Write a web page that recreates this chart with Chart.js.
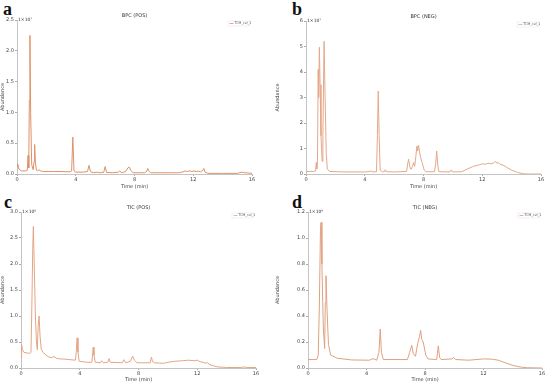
<!DOCTYPE html>
<html><head><meta charset="utf-8">
<script src="https://cdn.jsdelivr.net/npm/chart.js@4.4.1/dist/chart.umd.min.js"></script>
<style>
body{margin:0;width:550px;height:383px;background:#fff;position:relative;overflow:hidden}
canvas{position:absolute}
.lab{position:absolute;font:bold 18px "Liberation Serif",serif;color:#111;line-height:1}
</style></head><body>
<div class="lab" style="left:3px;top:0px">a</div>
<div class="lab" style="left:292px;top:0px">b</div>
<div class="lab" style="left:4px;top:193px">c</div>
<div class="lab" style="left:292px;top:193px">d</div>
<canvas id="ca" width="275" height="190" style="left:0;top:0"></canvas>
<canvas id="cb" width="275" height="190" style="left:275px;top:0"></canvas>
<canvas id="cc" width="275" height="193" style="left:0;top:190px"></canvas>
<canvas id="cd" width="275" height="193" style="left:275px;top:190px"></canvas>
<script>
// ---- data: [time (min), abundance] ----
const xTicks = [0, 4, 8, 12, 16];
const seriesLabel = "TCM_ref_1";
const titles = ["BPC (POS)", "BPC (NEG)", "TIC (POS)", "TIC (NEG)"];
const exponents = ["1\u00d710\u2077", "1\u00d710\u2077", "1\u00d710\u2078", "1\u00d710\u2079"];

const bpcPos = [[0,0.12],[0.05,0.16],[0.12,0.08],[0.3,0.05],[0.6,0.05],[0.7,0.06],[0.75,0.3],[0.8,0.1],[0.84,1.2],[0.88,2.25],[0.93,1.0],[1.0,0.15],[1.1,0.07],[1.16,0.2],[1.2,0.48],[1.25,0.2],[1.32,0.06],[1.4,0.05],[1.5,0.07],[1.6,0.05],[1.8,0.04],[2.5,0.04],[3.0,0.04],[3.6,0.035],[3.72,0.05],[3.8,0.6],[3.88,0.05],[4.0,0.03],[4.5,0.03],[4.8,0.04],[4.9,0.14],[5.0,0.04],[5.2,0.02],[5.5,0.03],[5.6,0.02],[5.9,0.025],[6.0,0.12],[6.1,0.025],[6.5,0.02],[6.9,0.03],[7.0,0.05],[7.1,0.02],[7.4,0.04],[7.55,0.1],[7.65,0.11],[7.75,0.06],[7.9,0.02],[8.7,0.02],[8.85,0.05],[8.9,0.09],[8.95,0.05],[9.1,0.02],[10.5,0.02],[11.0,0.02],[11.3,0.035],[11.45,0.05],[11.6,0.04],[11.75,0.05],[11.9,0.04],[12.05,0.05],[12.2,0.04],[12.35,0.045],[12.5,0.035],[12.65,0.06],[12.72,0.09],[12.8,0.03],[13.0,0.01],[14.0,0.01],[15.0,0.01],[15.3,0.03],[15.5,0.02],[15.8,0.015],[16.0,0.01]];

const bpcNeg = [[0,0.1],[0.5,0.1],[0.65,0.12],[0.7,0.45],[0.74,0.2],[0.78,0.5],[0.83,4.1],[0.86,3.0],[0.91,4.97],[0.96,3.5],[1.02,1.5],[1.1,0.5],[1.15,1.5],[1.23,5.2],[1.3,3.0],[1.38,0.8],[1.45,0.2],[1.6,0.1],[2.5,0.08],[4.0,0.08],[4.4,0.1],[4.45,0.13],[4.5,0.08],[4.8,0.09],[4.86,1.5],[4.92,3.25],[4.98,1.5],[5.05,0.15],[5.2,0.08],[5.35,0.1],[5.4,0.17],[5.45,0.09],[6.0,0.08],[6.85,0.1],[6.92,0.4],[6.99,0.58],[7.06,0.3],[7.15,0.18],[7.25,0.3],[7.33,0.45],[7.4,0.3],[7.48,0.7],[7.55,1.1],[7.6,0.9],[7.67,1.12],[7.72,0.9],[7.8,0.65],[7.9,0.45],[8.05,0.15],[8.15,0.09],[8.75,0.09],[8.83,0.4],[8.9,0.9],[8.97,0.35],[9.05,0.09],[9.8,0.08],[9.9,0.16],[9.97,0.08],[10.6,0.09],[11.0,0.2],[11.4,0.3],[11.8,0.36],[12.0,0.4],[12.2,0.38],[12.4,0.42],[12.6,0.4],[12.8,0.44],[12.9,0.5],[13.0,0.42],[13.1,0.45],[13.2,0.38],[13.4,0.35],[13.7,0.25],[14.0,0.15],[14.4,0.06],[14.8,0.01],[15.2,0],[16,0]];

const ticPos = [[0,0.2],[0.04,0.45],[0.1,0.35],[0.2,0.3],[0.6,0.28],[0.68,0.3],[0.74,1.2],[0.8,2.3],[0.84,2.72],[0.9,2.0],[0.98,1.0],[1.06,0.45],[1.11,0.35],[1.17,0.8],[1.23,1.0],[1.3,0.6],[1.38,0.36],[1.5,0.3],[1.7,0.25],[1.9,0.21],[2.1,0.2],[2.25,0.22],[2.45,0.18],[3.0,0.17],[3.7,0.15],[3.76,0.3],[3.82,0.58],[3.88,0.3],[3.96,0.13],[4.5,0.11],[4.83,0.11],[4.88,0.3],[4.92,0.4],[4.97,0.25],[5.05,0.11],[5.4,0.1],[5.5,0.14],[5.6,0.1],[5.9,0.11],[6.0,0.18],[6.08,0.11],[6.9,0.1],[7.0,0.16],[7.12,0.1],[7.45,0.13],[7.6,0.23],[7.72,0.15],[7.9,0.1],[8.8,0.1],[8.88,0.21],[8.96,0.12],[9.1,0.1],[9.7,0.09],[10.0,0.11],[10.5,0.13],[11.0,0.14],[11.4,0.15],[11.8,0.14],[12.0,0.15],[12.2,0.12],[12.4,0.11],[12.6,0.09],[12.7,0.11],[12.8,0.07],[13.0,0.05],[13.4,0.02],[14.0,0.01],[15.0,0.01],[15.2,0.02],[15.4,0.01],[16,0.01]];

const ticNeg = [[0,0.065],[0.6,0.065],[0.7,0.1],[0.78,0.5],[0.85,1.05],[0.89,1.12],[0.95,0.8],[1.05,0.3],[1.14,0.15],[1.18,0.5],[1.23,0.71],[1.3,0.45],[1.4,0.18],[1.55,0.1],[2.0,0.075],[3.0,0.062],[4.2,0.06],[4.45,0.072],[4.7,0.06],[4.85,0.12],[4.94,0.3],[5.02,0.12],[5.15,0.065],[6.8,0.065],[6.95,0.12],[7.09,0.175],[7.2,0.11],[7.35,0.09],[7.5,0.19],[7.62,0.24],[7.7,0.29],[7.78,0.22],[7.88,0.2],[8.05,0.1],[8.2,0.07],[8.8,0.065],[8.91,0.17],[9.0,0.08],[9.1,0.065],[9.85,0.07],[9.95,0.08],[10.1,0.065],[11.0,0.06],[12.0,0.07],[12.6,0.068],[13.0,0.06],[13.5,0.04],[14.0,0.02],[14.5,0.008],[15,0.002],[16,0]];

const yMaxes = [2.5, 6, 3.0, 1.2];
const ySteps = [0.5, 1, 0.5, 0.2];
const yDecimals = [1, 0, 1, 1];

// ---- drawing ----
const FONT = '"DejaVu Sans", sans-serif';
const deco = {
  id: 'deco',
  afterDraw(chart, args, o) {
    const ctx = chart.ctx, a = chart.chartArea;
    ctx.save();
    ctx.fillStyle = '#333';
    ctx.font = '5px ' + FONT;
    ctx.textAlign = 'center'; ctx.textBaseline = 'bottom';
    ctx.fillText(o.title, (a.left + a.right) / 2, a.top - 2);
    ctx.textAlign = 'left';
    ctx.font = '4.5px ' + FONT;
    ctx.fillText(o.exp, a.left + 1, a.top + 2);
    // legend
    const lx = a.right - 24, ly = a.top + 1;
    ctx.strokeStyle = '#e4e4e4'; ctx.lineWidth = 0.5;
    ctx.strokeRect(lx, ly, 22, 5);
    ctx.strokeStyle = o.color; ctx.lineWidth = 0.8;
    ctx.beginPath(); ctx.moveTo(lx + 1.5, ly + 2.5); ctx.lineTo(lx + 5.5, ly + 2.5); ctx.stroke();
    ctx.fillStyle = '#555'; ctx.font = '3.3px ' + FONT; ctx.textBaseline = 'middle';
    ctx.fillText(o.label, lx + 6.5, ly + 2.6);
    ctx.restore();
  }
};

const lineColors = ['#de9168', '#e4a888', '#e3a585', '#e0a080'];
function makeChart(id, series, i, box) {
  new Chart(document.getElementById(id), {
    type: 'line',
    data: { datasets: [{ label: seriesLabel, data: series.map(p => ({ x: p[0], y: p[1] })),
      borderColor: lineColors[i], borderWidth: 1, pointRadius: 0, tension: 0, fill: false }] },
    options: {
      responsive: false, animation: false, events: [],
      layout: { padding: { left: 0, top: box.top, right: box.w - box.right, bottom: 0 } },
      plugins: { legend: { display: false }, tooltip: { enabled: false },
        deco: { title: titles[i], exp: exponents[i], label: seriesLabel, color: lineColors[i] } },
      scales: {
        x: { type: 'linear', min: 0, max: 16,
          afterBuildTicks: s => { s.ticks = xTicks.map(v => ({ value: v })); },
          ticks: { font: { size: 5, family: FONT }, color: '#444', padding: 1, maxRotation: 0 },
          grid: { drawOnChartArea: false, drawTicks: true, tickLength: 2, color: '#aaa' },
          border: { color: '#c4c4c4', width: 1 },
          title: { display: true, text: 'Time (min)', font: { size: 5, family: FONT }, color: '#444', padding: 0 },
          afterFit: s => { s.height = box.h - box.bottom; } },
        y: { type: 'linear', min: 0, max: yMaxes[i],
          ticks: { stepSize: ySteps[i], font: { size: 5, family: FONT }, color: '#444', padding: 1,
            callback: v => v.toFixed(yDecimals[i]) },
          grid: { drawOnChartArea: false, drawTicks: true, tickLength: 2, color: '#aaa' },
          border: { color: '#c4c4c4', width: 1 },
          title: { display: true, text: 'Abundance', font: { size: 5, family: FONT }, color: '#444', padding: 0 },
          afterFit: s => { s.width = box.left; } }
      }
    },
    plugins: [deco]
  });
}

makeChart('ca', bpcPos, 0, { w: 275, h: 190, left: 17, top: 20, right: 252, bottom: 174 });
makeChart('cb', bpcNeg, 1, { w: 275, h: 190, left: 31, top: 21, right: 266, bottom: 174 });
makeChart('cc', ticPos, 2, { w: 275, h: 193, left: 21, top: 22, right: 256, bottom: 178 });
makeChart('cd', ticNeg, 3, { w: 275, h: 193, left: 33, top: 22, right: 267, bottom: 178 });
</script>
</body></html>
